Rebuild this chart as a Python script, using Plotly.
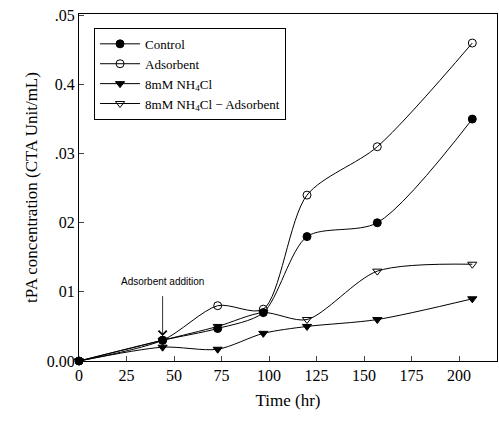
import plotly.graph_objects as go

time_hr = [0, 44, 73, 97, 120, 157, 207]
control = [0.0, 0.003, 0.0047, 0.007, 0.018, 0.020, 0.035]
adsorbent = [0.0, 0.003, 0.008, 0.0075, 0.024, 0.031, 0.046]
nh4cl = [0.0, 0.002, 0.0017, 0.004, 0.005, 0.006, 0.009]
nh4cl_ads = [0.0, 0.003, 0.005, 0.007, 0.006, 0.013, 0.014]

series_names = ["Control", "Adsorbent", "8mM NH<sub>4</sub>Cl", "8mM NH<sub>4</sub>Cl − Adsorbent"]
x_ticks = [0, 25, 50, 75, 100, 125, 150, 175, 200]
y_ticks = [0.0, 0.01, 0.02, 0.03, 0.04, 0.05]
y_tick_text = ["0.00", "01", "02", ".03", "0.4", ".05"]

styles = [
    dict(symbol="circle", color="black"),
    dict(symbol="circle-open", color="black"),
    dict(symbol="triangle-down", color="black"),
    dict(symbol="triangle-down-open", color="black"),
]

fig = go.Figure()
for name, ys, st in zip(series_names, [control, adsorbent, nh4cl, nh4cl_ads], styles):
    fig.add_trace(go.Scatter(
        x=time_hr, y=ys, name=name, mode="lines+markers",
        line=dict(color="black", width=1, shape="spline", smoothing=0.8),
        marker=dict(symbol=st["symbol"], size=8, color=st["color"],
                    line=dict(color="black", width=1)),
        cliponaxis=False,
    ))

fig.add_annotation(x=44, y=0.0036, ax=44, ay=0.0096, xref="x", yref="y",
                   axref="x", ayref="y", text="", showarrow=True,
                   arrowhead=4, arrowsize=2, arrowwidth=0.8, arrowcolor="black")
fig.add_annotation(x=44, y=0.0104, text="Adsorbent addition", showarrow=False,
                   font=dict(family="Liberation Sans", size=10, color="black"),
                   xanchor="center", yanchor="bottom")

fig.update_layout(
    width=499, height=432,
    margin=dict(l=79, r=2, t=14, b=71),
    paper_bgcolor="white", plot_bgcolor="white",
    font=dict(family="Liberation Serif", size=15, color="black"),
    legend=dict(x=0.036, y=0.96, xanchor="left", yanchor="top",
                bordercolor="black", borderwidth=1, bgcolor="white",
                font=dict(family="Liberation Serif", size=13),
                tracegroupgap=2, itemwidth=40),
    showlegend=True,
)
fig.update_xaxes(range=[0, 220], tickvals=x_ticks, ticks="inside", ticklen=5,
                 showline=True, linecolor="black", linewidth=1, mirror=True,
                 showgrid=False, zeroline=False, automargin=False,
                 tickfont=dict(size=16), ticklabeloverflow="allow",
                 title=dict(text="Time (hr)", font=dict(size=17), standoff=10))
fig.update_yaxes(range=[0, 0.0502], tickvals=y_ticks, ticktext=y_tick_text,
                 ticks="inside", ticklen=5,
                 showline=True, linecolor="black", linewidth=1, mirror=True,
                 showgrid=False, zeroline=False, automargin=False,
                 tickfont=dict(size=16), ticklabeloverflow="allow",
                 title=dict(text="tPA concentration (CTA Unit/mL)", font=dict(size=17), standoff=4))

fig.write_html("out.html", config={"displayModeBar": False},
               post_script="document.body.style.margin='0';")
